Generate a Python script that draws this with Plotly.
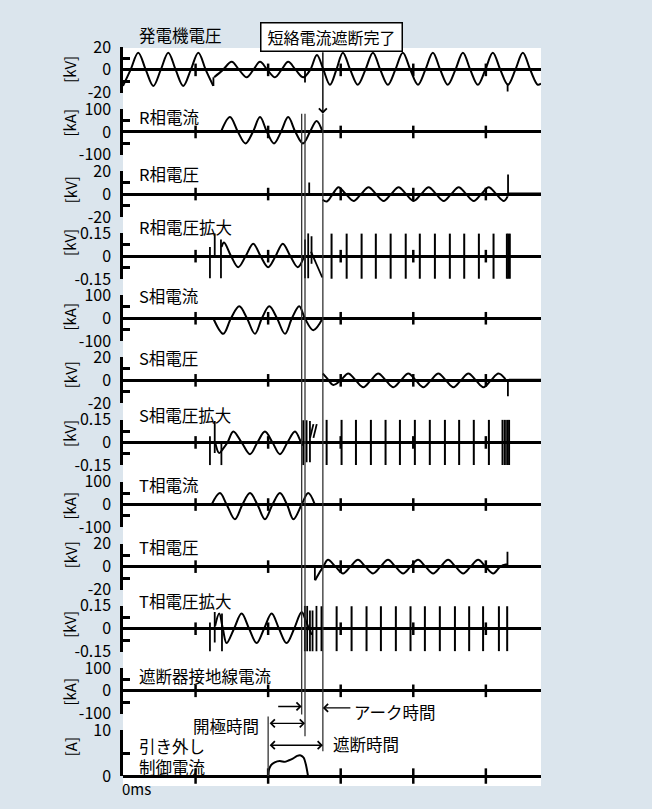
import plotly.graph_objects as go

# ---------------- data (time in ms) ----------------
time_tick_ms = [50, 100, 150, 200, 250]
x_range_ms = [0, 288]

panel_titles = ["発電機電圧", "R相電流", "R相電圧", "R相電圧拡大", "S相電流", "S相電圧",
                "S相電圧拡大", "T相電流", "T相電圧", "T相電圧拡大", "遮断器接地線電流",
                "引き外し<br>制御電流"]
panel_units = ["[kV]", "[kA]", "[kV]", "[kV]", "[kA]", "[kV]", "[kV]", "[kA]", "[kV]",
               "[kV]", "[kA]", "[A]"]
panel_ranges = [(-20, 20), (-100, 100), (-20, 20), (-0.15, 0.15), (-100, 100), (-20, 20),
                (-0.15, 0.15), (-100, 100), (-20, 20), (-0.15, 0.15), (-100, 100), (0, 10)]
panel_tick_text = [["-20", "0", "20"], ["-100", "0", "100"], ["-20", "0", "20"],
                   ["-0.15", "0", "0.15"], ["-100", "0", "100"], ["-20", "0", "20"],
                   ["-0.15", "0", "0.15"], ["-100", "0", "100"], ["-20", "0", "20"],
                   ["-0.15", "0", "0.15"], ["-100", "0", "100"], ["0", "10"]]

# generator voltage [kV]
gen_pre_t = [0, 5.2, 10.5, 15.7, 20.9, 26.0, 31.2, 36.3, 41.5, 46.7, 51.9, 57.0, 62.2]
gen_pre_v = [-14, 0, 15, 0, -14, 0, 15, 0, -14, 0, 15, 0, -14]
gen_post_t = [62.8, 68.8, 74.9, 80.0, 85.2, 89.8, 94.4, 99.5, 104.7, 109.2, 113.8, 119.0,
              124.2, 129.0, 133.6, 138.1, 142.6, 147.0, 151.5, 156.6, 161.8, 167.0, 172.2,
              177.3, 182.5, 187.6, 192.8, 198.0, 203.2, 208.3, 213.5, 218.6, 223.8, 229.0,
              234.2, 239.3, 244.5, 249.6, 254.8, 260.0, 265.2, 270.3, 275.5, 280.6, 285.8, 288.0]
gen_post_v = [-6.5, 0, 7, 0, -6.5, 0, 7, 0, -6.5, 0, 7, 0,
              -6.5, 0, 13, 0, -13, 0, 15, 0, -13, 0, 15,
              0, -13, 0, 15, 0, -13, 0, 15, 0, -13, 0,
              15, 0, -13, 0, 15, 0, -13, 0, 15, 0, -13, -12]
gen_spikes = [(62.3, -14, -6.5), (125.4, -11, 0), (265.0, -19, -12)]

# R phase
r_cur_t = [67.5, 73.7, 79.2, 84.4, 89.5, 94.4, 99.2, 104.0, 108.8, 113.8, 118.8, 124.0,
           128.8, 133.4, 137.5]
r_cur_v = [0, 65, 0, -50, 0, 65, 0, -50, 0, 65, 0, -50, 0, 48, 0]
r_volt_t = [137.5, 140.5, 144.5, 148.5, 153.5, 158.9, 164.0, 169.2, 174.3, 179.6, 184.7,
            189.9, 195.0, 200.3, 205.4, 210.6, 215.7, 221.0, 226.1, 231.3, 236.4, 241.7,
            246.8, 252.0, 257.1, 262.4, 265.0]
r_volt_v = [-5, -6.5, 0, 6, 0, -6, 0, 6, 0, -6, 0,
            6, 0, -6, 0, 6, 0, -6, 0, 6, 0, -6,
            0, 6, 0, -6, -2]
r_volt_tail_t = [265.6, 288.0]
r_volt_tail_v = [0.5, 0.5]
r_volt_spikes = [(128.3, 0, 10), (265.3, -2, 17)]
r_zoom_t = [67.9, 69.6, 74.5, 79.4, 84.5, 89.7, 94.8, 100.0, 105.1, 110.1, 115.3, 120.4, 124.5]
r_zoom_v = [0.06, 0.09, 0, -0.072, 0, 0.082, 0, -0.072, 0, 0.082, 0, -0.072, -0.01]
r_zoom_diag_t = [129.5, 137.3]
r_zoom_diag_v = [0.03, -0.14]
r_zoom_spikes = [(59.9, -0.145, 0.06), (63.2, 0.0, 0.15), (67.5, -0.145, 0.11),
                 (125.4, -0.145, 0.11), (127.6, -0.145, 0.15), (129.9, -0.05, 0.13)]
r_zoom_marks = [143.7, 154.1, 164.4, 174.2, 184.4, 194.8, 204.5, 214.9, 225.2, 235.1,
                245.2, 255.3, 264.5, 265.5, 266.5]

# S phase
s_cur_t = [62.2, 69.1, 74.4, 80.1, 85.4, 90.9, 95.7, 100.8, 106.1, 111.6, 116.4, 121.4,
           125.3, 131.1, 137.6]
s_cur_v = [0, -68, 0, 52, 0, -68, 0, 52, 0, -68, 0, 52, 0, -52, 0]
s_volt_t = [137.6, 140.5, 144.9, 150.0, 155.2, 160.3, 165.6, 170.7, 175.9, 181.0, 186.3,
            191.4, 196.6, 201.7, 207.0, 212.1, 217.3, 222.4, 227.7, 232.8, 238.0, 243.1,
            248.4, 253.5, 258.7, 263.5]
s_volt_v = [6, 2, -4, 0, 6, 0, -6, 0, 6, 0, -6,
            0, 6, 0, -6, 0, 6, 0, -6, 0, 6, 0,
            -6, 0, 6, 1]
s_volt_tail_t = [265.8, 288.0]
s_volt_tail_v = [0.5, 0.5]
s_volt_spikes = [(265.2, -14, 1)]
s_zoom_t = [63.5, 66.3, 69.0, 72.0, 76.0, 81.7, 87.5, 92.6, 97.8, 103.0, 108.1, 113.3,
            118.5, 122.7, 124.2]
s_zoom_v = [0, -0.07, -0.04, 0, 0.072, 0, -0.077, 0, 0.072, 0, -0.077, 0,
            0.072, 0, -0.02]
s_zoom_diag_t = [128.9, 131.2, None, 131.2, 133.5]
s_zoom_diag_v = [0.03, 0.12, None, 0.03, 0.12]
s_zoom_spikes = [(59.9, -0.15, 0.04), (63.2, -0.07, 0.14), (67.8, -0.15, 0.0),
                 (124.2, -0.15, 0.145), (126.5, -0.13, 0.145), (128.8, -0.13, 0.14)]
s_zoom_marks = [140.3, 150.6, 160.5, 170.8, 180.9, 190.8, 201.1, 211.4, 221.8, 231.6,
                241.7, 252.1, 261.5, 263.1, 264.7, 266.0]

# T phase
t_cur_t = [61.1, 66.8, 71.4, 77.1, 82.3, 87.5, 92.6, 97.8, 103.0, 108.1, 113.0, 117.4,
           123.1, 127.6, 132.2]
t_cur_v = [0, 50, 0, -64, 0, 50, 0, -64, 0, 50, 0, -64, 0, 50, 0]
t_volt_t = [132.4, 135.5, 138.0, 141.2, 146.4, 151.6, 156.7, 161.9, 167.0, 172.3, 177.4,
            182.6, 187.7, 193.0, 198.1, 203.3, 208.4, 213.7, 218.8, 224.0, 229.1, 234.4,
            239.5, 244.7, 249.8, 255.1, 260.0, 264.5]
t_volt_v = [-12, -5, 0, 6, 0, -6, 0, 6, 0, -6, 0,
            6, 0, -6, 0, 6, 0, -6, 0, 6, 0, -6,
            0, 6, 0, -6, 0, 2]
t_volt_tail_t = [265.5, 288.0]
t_volt_tail_v = [0.5, 0.5]
t_volt_spikes = [(132.2, -12, 0), (264.9, 0, 13)]
t_zoom_t = [63.5, 66.3, 68.8, 71.4, 76.5, 81.7, 86.9, 92.1, 97.2, 102.4, 107.5, 112.7,
            117.9, 123.1, 126.0, 130.0]
t_zoom_v = [0.02, 0.1, 0, -0.094, 0, 0.1, 0, -0.094, 0, 0.1, 0, -0.094,
            0, 0.11, 0.05, -0.04]
t_zoom_spikes = [(59.9, -0.15, 0.04), (63.2, -0.09, 0.11), (68.2, -0.15, 0.1),
                 (125.3, -0.15, 0.15), (126.9, -0.15, 0.15), (128.8, -0.15, 0.12),
                 (130.6, -0.15, 0.12), (133.3, -0.15, 0.15)]
t_zoom_marks = [136.8, 147.2, 157.5, 167.8, 177.7, 188.0, 198.1, 208.0, 218.3, 228.7,
                238.5, 248.1, 259.0, 264.7]

# trip control current [A]
ctrl_t = [100.0, 100.4, 102.0, 104.5, 108.0, 111.5, 114.0, 117.0, 120.0, 122.5, 124.5,
          126.0, 127.5]
ctrl_v = [0, 1.2, 2.4, 3.0, 3.3, 3.1, 3.4, 3.8, 4.4, 4.5, 4.0, 2.5, 0]

# event times [ms]
trip_ms = 100.0
contact_ms = [123.1, 125.4]
arc_end_ms = 137.7

# ---------------- layout geometry ----------------
W, H = 652, 809
ML, MR, MT, MB = 123, 111, 46, 19
PW, PH = W - ML - MR, H - MT - MB


def pxx(x):
    return (x - ML) / PW


def pxy(y):
    return (H - MB - y) / PH


zero_px = [70 + 62.43 * k for k in range(11)]
panel_top = [z - 23 for z in zero_px] + [734]
panel_bot = [z + 23 for z in zero_px] + [780]
title_y_px = [35, 117, 175, 228, 297, 360, 417, 487, 550, 604, 679, 760.5]
unit_y_px = [70, 123, 191, 244, 318, 377, 436, 508, 558, 628, 695, 751]

JP = "Noto Sans CJK JP"
BG = "#dbe5ed"

fig = go.Figure()


def yname(i):
    return "y" if i == 0 else f"y{i + 1}"


def add_wave(i, t, v, shape="spline", width=2.0, smoothing=1.0):
    fig.add_trace(go.Scatter(x=t, y=v, xaxis="x", yaxis=yname(i), mode="lines",
                             line=dict(color="black", width=width, shape=shape,
                                       smoothing=smoothing),
                             hoverinfo="skip", showlegend=False))


def add_spikes(i, spikes, width=1.8):
    xs, ys = [], []
    for t, lo, hi in spikes:
        xs += [t, t, None]
        ys += [lo, hi, None]
    add_wave(i, xs, ys, shape="linear", width=width)


def add_marks(i, times, amp, width=2.0):
    add_spikes(i, [(t, -amp, amp) for t in times], width=width)


add_wave(0, gen_pre_t, gen_pre_v)
add_wave(0, gen_post_t, gen_post_v)
add_spikes(0, gen_spikes)

add_wave(1, r_cur_t, r_cur_v)
add_wave(2, r_volt_t, r_volt_v)
add_wave(2, r_volt_tail_t, r_volt_tail_v, shape="linear")
add_spikes(2, r_volt_spikes)
add_wave(3, r_zoom_t, r_zoom_v)
add_wave(3, r_zoom_diag_t, r_zoom_diag_v, shape="linear", width=1.8)
add_spikes(3, r_zoom_spikes)
add_marks(3, r_zoom_marks, 0.148)

add_wave(4, s_cur_t, s_cur_v)
add_wave(5, s_volt_t, s_volt_v)
add_wave(5, s_volt_tail_t, s_volt_tail_v, shape="linear")
add_spikes(5, s_volt_spikes)
add_wave(6, s_zoom_t, s_zoom_v)
add_wave(6, s_zoom_diag_t, s_zoom_diag_v, shape="linear", width=1.8)
add_spikes(6, s_zoom_spikes)
add_marks(6, s_zoom_marks, 0.148)

add_wave(7, t_cur_t, t_cur_v)
add_wave(8, t_volt_t, t_volt_v)
add_wave(8, t_volt_tail_t, t_volt_tail_v, shape="linear")
add_spikes(8, t_volt_spikes)
add_wave(9, t_zoom_t, t_zoom_v)
add_spikes(9, t_zoom_spikes)
add_marks(9, t_zoom_marks, 0.148)

add_wave(11, ctrl_t, ctrl_v, smoothing=0.6)

# time ticks on every trace baseline
for i in range(12):
    fig.add_trace(go.Scatter(x=time_tick_ms, y=[0] * len(time_tick_ms), xaxis="x",
                             yaxis=yname(i), mode="markers", cliponaxis=False,
                             marker=dict(symbol="line-ns", size=9 if i < 11 else 11,
                                         line=dict(color="black", width=2.5)),
                             hoverinfo="skip", showlegend=False))

axes = {}
for i in range(12):
    lo, hi = panel_ranges[i]
    key = "yaxis" if i == 0 else f"yaxis{i + 1}"
    if i < 11:
        tv = [lo, 0, hi]
        mv = [lo / 2, hi / 2]
    else:
        tv = [lo, hi]
        mv = [(lo + hi) / 2]
    axes[key] = dict(
        domain=[pxy(panel_bot[i]), pxy(panel_top[i])], range=[lo, hi], anchor="x",
        showline=True, linewidth=2.5, linecolor="black", showgrid=False,
        zeroline=True, zerolinewidth=2.5, zerolinecolor="black",
        ticks="inside", ticklen=13, tickwidth=2.5, tickcolor="black",
        tickmode="array", tickvals=tv, ticktext=panel_tick_text[i],
        minor=dict(ticks="inside", ticklen=7, tickwidth=2.5, tickcolor="black",
                   tickmode="array", tickvals=mv),
        tickfont=dict(family=JP, size=16, color="black"), ticklabelstandoff=6,
        fixedrange=True)

fig.update_layout(
    width=W, height=H, margin=dict(l=ML, r=MR, t=MT, b=MB),
    paper_bgcolor=BG, plot_bgcolor="rgba(0,0,0,0)",
    xaxis=dict(domain=[0, 1], range=x_range_ms, visible=False, fixedrange=True),
    **axes)

shapes = [dict(type="rect", xref="x", yref="paper", x0=x_range_ms[0], x1=x_range_ms[1],
               y0=0, y1=pxy(48), fillcolor="white", line=dict(width=0), layer="below")]
line_style = dict(color="#333333", width=1.3)
shapes.append(dict(type="line", xref="x", yref="paper", x0=contact_ms[0], x1=contact_ms[0],
                   y0=pxy(718), y1=pxy(114), line=line_style))
shapes.append(dict(type="line", xref="x", yref="paper", x0=contact_ms[1], x1=contact_ms[1],
                   y0=pxy(740), y1=pxy(114), line=line_style))
shapes.append(dict(type="line", xref="x", yref="paper", x0=arc_end_ms, x1=arc_end_ms,
                   y0=pxy(755), y1=pxy(114), line=line_style))
shapes.append(dict(type="line", xref="x", yref="paper", x0=trip_ms, x1=trip_ms,
                   y0=pxy(780), y1=pxy(720), line=line_style))
fig.update_layout(shapes=shapes)

ann = []
for i in range(12):
    ann.append(dict(text=panel_titles[i], xref="paper", yref="paper", x=pxx(137),
                    y=pxy(title_y_px[i]), xanchor="left", yanchor="middle", showarrow=False,
                    align="left", font=dict(family=JP, size=16.5, color="black")))
    ann.append(dict(text=panel_units[i], xref="paper", yref="paper", x=pxx(70),
                    y=pxy(unit_y_px[i]), xanchor="center", yanchor="middle",
                    showarrow=False, textangle=-90,
                    font=dict(family=JP, size=15, color="black")))

ann.append(dict(text="0ms", xref="paper", yref="paper", x=pxx(120), y=pxy(793),
                xanchor="left", yanchor="middle", showarrow=False,
                font=dict(family=JP, size=15, color="black")))
# interruption complete box + arrow
ann.append(dict(text="短絡電流遮断完了", xref="paper", yref="paper", x=pxx(331), y=pxy(36.5),
                xanchor="center", yanchor="middle", showarrow=False,
                bgcolor="white", bordercolor="black", borderwidth=1.5, borderpad=2,
                width=136, height=23, font=dict(family=JP, size=16, color="black")))
arrow_common = dict(showarrow=True, arrowhead=4, arrowsize=1.1, arrowwidth=1.4,
                    arrowcolor="black", text="", standoff=0, startstandoff=0)
ann.append(dict(x=arc_end_ms, xref="x", y=pxy(114), yref="paper", ax=0, ay=-63,
                **arrow_common))
# time annotations
ann.append(dict(text="開極時間", xref="paper", yref="paper", x=pxx(261), y=pxy(730),
                xanchor="right", yanchor="middle", showarrow=False,
                font=dict(family=JP, size=16.5, color="black")))
ann.append(dict(x=contact_ms[1], xref="x", y=pxy(727), yref="paper", ax=trip_ms, axref="x",
                ay=0, ayref="pixel", arrowside="end+start", **arrow_common))
ann.append(dict(x=contact_ms[0], xref="x", y=pxy(710), yref="paper", ax=105.9, axref="x",
                ay=0, ayref="pixel", **arrow_common))
ann.append(dict(x=arc_end_ms, xref="x", y=pxy(711.5), yref="paper", ax=157.7, axref="x",
                ay=0, ayref="pixel", **arrow_common))
ann.append(dict(text="アーク時間", xref="paper", yref="paper", x=pxx(352), y=pxy(716),
                xanchor="left", yanchor="middle", showarrow=False,
                font=dict(family=JP, size=16.5, color="black")))
ann.append(dict(x=arc_end_ms, xref="x", y=pxy(749), yref="paper", ax=trip_ms, axref="x",
                ay=0, ayref="pixel", arrowside="end+start", **arrow_common))
ann.append(dict(text="遮断時間", xref="paper", yref="paper", x=pxx(331), y=pxy(748),
                xanchor="left", yanchor="middle", showarrow=False,
                font=dict(family=JP, size=16.5, color="black")))
fig.update_layout(annotations=ann)

page_css = ("document.body.style.margin='0';document.body.style.padding='0';"
            "document.body.style.background='" + BG + "';"
            "document.documentElement.style.overflow='hidden';")
fig.write_html("out.html", post_script=page_css, config={"displayModeBar": False})
